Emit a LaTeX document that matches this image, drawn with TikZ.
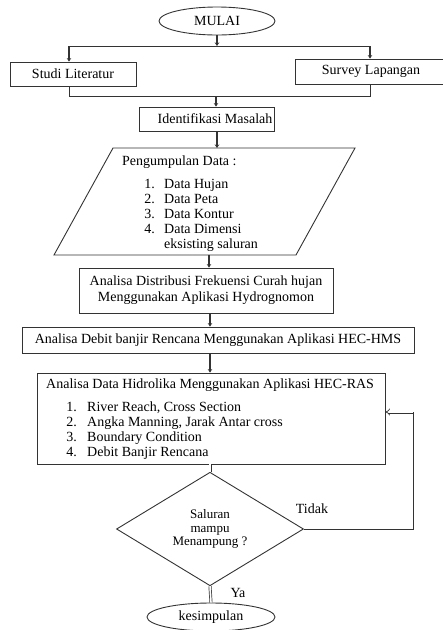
\documentclass[tikz,border=0pt]{standalone}
\usepackage{fontspec}
\setmainfont{Liberation Serif}
\usetikzlibrary{shapes.geometric,arrows.meta}
\definecolor{ln}{HTML}{333333}
\tikzset{
  box/.style={draw=ln, line width=0.9pt, rectangle, inner sep=0pt, font=\fontsize{14}{16}\selectfont},
  oval/.style={draw=ln, line width=0.9pt, ellipse, inner sep=0pt, font=\fontsize{14}{16}\selectfont},
  txt/.style={inner sep=0pt, font=\fontsize{14}{15}\selectfont},
  arr/.style={draw=ln, line width=1.6pt, -{Stealth[length=3.5pt,width=4.5pt]}},
  conn/.style={draw=ln, line width=0.9pt},
  dbl/.style={draw=ln, line width=0.7pt, double=white, double distance=1.6pt},
}
\begin{document}
\begin{tikzpicture}[x=1pt,y=-1pt]
\useasboundingbox (0,0) rectangle (443,630);
% start
\node[oval, minimum width=116pt, minimum height=28pt] (mulai) at (217,21) {MULAI};
\node[box, minimum width=126pt, minimum height=24pt] (studi) at (73,74) {Studi Literatur};
\node[box, minimum width=152pt, minimum height=25pt] (survey) at (371,71.5) {Survey Lapangan};
\coordinate (hl) at (69,46);
\coordinate (hr) at (370,46);
\coordinate (bl) at (69,96);
\coordinate (br) at (370,96);
\draw[arr] (mulai.south) -- (mulai.south |- hl);
\draw[conn] (hl) -- (hr);
\draw[arr] (hl) -- (hl |- studi.north);
\draw[arr] (hr) -- (hr |- survey.north);
\draw[conn] (bl |- studi.south) -- (bl) -- (br) -- (br |- survey.south);
% identifikasi
\node[box, minimum width=135pt, minimum height=24pt] (ident) at (206.5,119) {};
\node[txt] (identt) at (215,119) {Identifikasi Masalah};
\coordinate (bm) at (216,96);
\draw[arr] (bm) -- (bm |- ident.north);
% parallelogram
\coordinate (p1) at (113,148);
\coordinate (p2) at (355,148);
\coordinate (p3) at (296,255);
\coordinate (p4) at (54,255);
\coordinate (ptop) at (217,148);
\coordinate (pbot) at (209,255);
\draw[conn] (p1) -- (p2) -- (p3) -- (p4) -- cycle;
\draw[arr] (ptop |- ident.south) -- (ptop);
\node[txt, anchor=base west] (pd) at (122,165) {Pengumpulan Data :};
\node[txt, anchor=base east] (n1) at (155,188) {1.};
\node[txt, anchor=base west] (d1) at (164,188) {Data Hujan};
\node[txt, anchor=base east] (n2) at (155,203) {2.};
\node[txt, anchor=base west] (d2) at (164,203) {Data Peta};
\node[txt, anchor=base east] (n3) at (155,218) {3.};
\node[txt, anchor=base west] (d3) at (164,218) {Data Kontur};
\node[txt, anchor=base east] (n4) at (155,233) {4.};
\node[txt, anchor=base west] (d4) at (164,233) {Data Dimensi};
\node[txt, anchor=base west] (d5) at (164,248) {eksisting saluran};
% distribusi
\node[box, minimum width=254pt, minimum height=45pt, align=center] (dist) at (206,290.5) {Analisa Distribusi Frekuensi Curah hujan\\Menggunakan Aplikasi Hydrognomon};
\draw[arr] (pbot) -- (pbot |- dist.north);
% HMS
\node[box, minimum width=392pt, minimum height=26pt] (hms) at (218,340) {Analisa Debit banjir Rencana Menggunakan Aplikasi HEC-HMS};
\coordinate (cx) at (210,0);
\draw[arr] (cx |- dist.south) -- (cx |- hms.north);
% RAS
\node[box, minimum width=348pt, minimum height=91pt] (ras) at (211,418.5) {};
\draw[arr] (cx |- hms.south) -- (cx |- ras.north);
\node[txt, anchor=base west] (rt) at (46,388) {Analisa Data Hidrolika Menggunakan Aplikasi HEC-RAS};
\node[txt, anchor=base east] (r1n) at (77,411) {1.};
\node[txt, anchor=base west] (r1) at (87,411) {River Reach, Cross Section};
\node[txt, anchor=base east] (r2n) at (77,426) {2.};
\node[txt, anchor=base west] (r2) at (87,426) {Angka Manning, Jarak Antar cross};
\node[txt, anchor=base east] (r3n) at (77,441) {3.};
\node[txt, anchor=base west] (r3) at (87,441) {Boundary Condition};
\node[txt, anchor=base east] (r4n) at (77,456) {4.};
\node[txt, anchor=base west] (r4) at (87,456) {Debit Banjir Rencana};
% diamond
\node[draw=ln, line width=0.9pt, diamond, minimum width=187pt, minimum height=98pt, inner sep=0pt, align=center, font=\fontsize{13}{13.5}\selectfont] (dec) at (210,529) {Saluran\\mampu\\Menampung ?};
\draw[dbl] (cx |- ras.south) -- (dec.north);
% Tidak loop
\coordinate (tr) at (413,529);
\coordinate (tu) at (413,412);
\draw[conn] (dec.east) -- (tr) -- (tu);
\draw[dbl, -{Implies}] (tu) -- (ras.east |- tu);
\node[txt] (tidak) at (312,509) {Tidak};
% end
\node[oval, minimum width=128pt, minimum height=28pt] (kes) at (211,617) {kesimpulan};
\draw[dbl] (dec.south) -- (kes.north);
\node[txt] (ya) at (238,593) {Ya};
\end{tikzpicture}
\end{document}
